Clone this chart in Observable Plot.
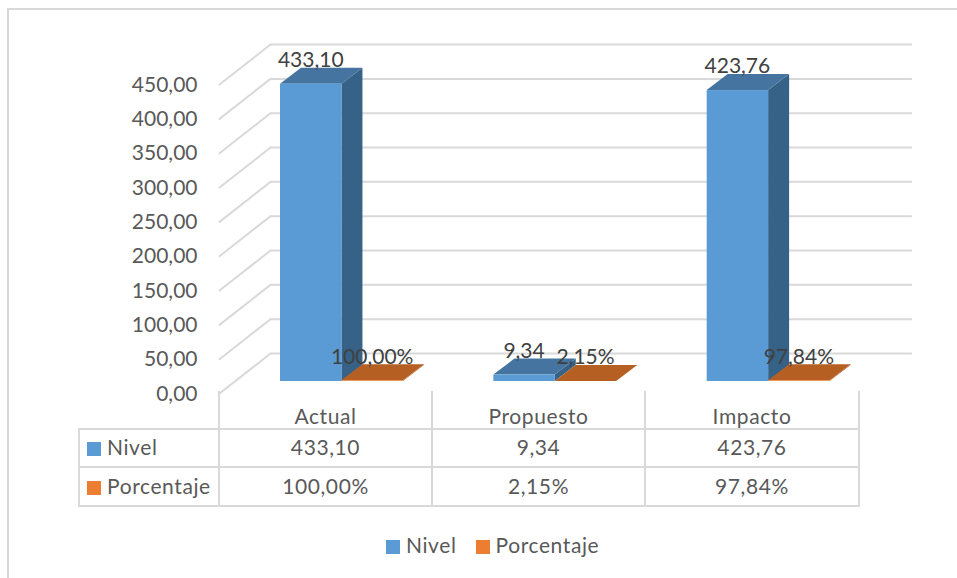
<!DOCTYPE html>
<html lang="es">
<head>
<meta charset="utf-8">
<script src="https://cdn.jsdelivr.net/npm/d3@7"></script>
<script src="https://cdn.jsdelivr.net/npm/@observablehq/plot@0.6"></script>
<style>
  html, body { margin: 0; padding: 0; background: #fff; }
  body { width: 957px; height: 578px; overflow: hidden; position: relative; font-family: Lato, "Open Sans", sans-serif; color: #595959; }
  #frame { position: absolute; left: 7px; top: 8px; width: 960px; height: 580px; border: 2px solid #d9d9d9; box-sizing: border-box; }
  #chart { position: absolute; left: 0; top: 0; }
  #chart svg { display: block; }
  table { position: absolute; left: 78px; top: 391px; border-collapse: collapse; table-layout: fixed; font-size: 21px; letter-spacing: 0.6px; }
  td { border: 2px solid #d9d9d9; padding: 0 0 3px 0; text-align: center; box-sizing: border-box; }
  td.corner { border-color: transparent #d9d9d9 #d9d9d9 transparent; }
  td.head { border-top-color: transparent; padding: 9px 0 0 0; }
  td.key { text-align: left; white-space: nowrap; }
  .swatch { display: inline-block; width: 14px; height: 14px; vertical-align: -1px; }
  td.key .swatch { margin: 0 6px 0 7px; }
  #legend { position: absolute; left: 386px; top: 530px; display: flex; align-items: center; font-size: 21px; letter-spacing: 0.6px; line-height: 30px; }
  #legend .swatch { margin-right: 6px; vertical-align: -1px; }
  #legend span.item + span.item { margin-left: 19px; }
</style>
</head>
<body>
<div id="frame"></div>
<div id="chart"></div>
<div id="table"></div>
<div id="legend"></div>
<script>
// Values of the two series
const categories = ["Actual", "Propuesto", "Impacto"];
const nivel = [433.10, 9.34, 423.76];
const porcentaje = [100.00, 2.15, 97.84];
const axisTicks = [0, 50, 100, 150, 200, 250, 300, 350, 400, 450];
const seriesNames = ["Nivel", "Porcentaje"];
const seriesColors = ["#5b9bd5", "#ed7d31"];

const fmt = d3.formatLocale({decimal: ",", thousands: ".", grouping: [3], currency: ["", ""]}).format(".2f");

// Oblique projection of the floor: how far each plane sits behind the front
// edge, in axis units vertically and category slots horizontally.
const wallRise = 58.25, wallRun = 0.239;
const barFrontRise = 17.5, barBackRise = 40.8, barRun = 0.0984;
const barWidth = 0.288, firstBar = 0.286;
const gridEnd = 3.248;

// Percentages are plotted on the same axis as a fraction, so they stay flat.
const bars = categories.flatMap((category, i) => [
  {category, series: 0, value: nivel[i], label: fmt(nivel[i]), x0: i + firstBar},
  {category, series: 1, value: porcentaje[i] / 100, label: fmt(porcentaje[i]) + "%", x0: i + firstBar + barWidth}
]).map((d, id) => ({...d, id, x1: d.x0 + barWidth}));

const sideFaces = bars.flatMap(d => [
  {id: d.id, series: d.series, x: d.x1, y1: barFrontRise, y2: barFrontRise + d.value},
  {id: d.id, series: d.series, x: d.x1 + barRun, y1: barBackRise, y2: barBackRise + d.value}
]);
const topFaces = bars.flatMap(d => [
  {id: d.id, series: d.series, y: barFrontRise + d.value, x1: d.x0, x2: d.x1},
  {id: d.id, series: d.series, y: barBackRise + d.value, x1: d.x0 + barRun, x2: d.x1 + barRun}
]);
const sideColors = ["#376287", "#b05b20"];
const topColors = ["#44749f", "#b65f22"];

const gridBack = axisTicks.map(v => ({v, x1: wallRun, x2: gridEnd, y: v + wallRise}));
const gridFloor = axisTicks.flatMap(v => [
  {v, x: 0, y: v},
  {v, x: wallRun, y: v + wallRise}
]);

const plot = Plot.plot({
  width: 957,
  height: 410,
  marginLeft: 219,
  marginRight: 0,
  marginTop: 0,
  marginBottom: 0,
  style: {fontFamily: "Lato, 'Open Sans', sans-serif", background: "transparent", overflow: "visible"},
  x: {domain: [0, 3.4], range: [219, 219 + 213.33 * 3.4], axis: null},
  y: {domain: [0, 520], range: [393, 36], axis: null},
  marks: [
    // back wall and floor-side guide lines
    Plot.ruleY(gridBack, {y: "y", x1: "x1", x2: "x2", stroke: "#d9d9d9", strokeWidth: 2}),
    Plot.line(gridFloor, {x: "x", y: "y", z: "v", stroke: "#d9d9d9", strokeWidth: 2}),
    Plot.axisY(axisTicks, {
      anchor: "left",
      label: null,
      tickSize: 0,
      tickPadding: 22,
      tickFormat: fmt,
      fontSize: 21,
      fill: "#595959",
      letterSpacing: 0.6,
      dy: 0.5
    }),
    // three visible faces of each bar
    Plot.areaY(sideFaces, {x: "x", y1: "y1", y2: "y2", z: "id", fill: d => sideColors[d.series], curve: "linear"}),
    Plot.areaX(topFaces, {y: "y", x1: "x1", x2: "x2", z: "id", fill: d => topColors[d.series], curve: "linear"}),
    Plot.rect(bars, {
      x1: "x0",
      x2: "x1",
      y1: barFrontRise,
      y2: d => barFrontRise + d.value,
      fill: d => seriesColors[d.series]
    }),
    // value labels
    Plot.text(bars, {
      x: d => (d.x0 + d.x1) / 2,
      y: d => barFrontRise + d.value,
      text: "label",
      dy: -24,
      dx: -0.5,
      fontSize: 21,
      fill: "#404040",
      letterSpacing: 0.6
    })
  ]
});
document.getElementById("chart").append(plot);

// Data table beneath the axis
const swatch = i => `<span class="swatch" style="background:${seriesColors[i]}"></span>`;
const rowHeights = [37, 38, 39];
const colWidths = [140, 213, 213, 214];
const rows = [
  [`<td class="corner"></td>`, ...categories.map(c => `<td class="head">${c}</td>`)],
  [`<td class="key">${swatch(0)}${seriesNames[0]}</td>`, ...nivel.map(v => `<td>${fmt(v)}</td>`)],
  [`<td class="key">${swatch(1)}${seriesNames[1]}</td>`, ...porcentaje.map(v => `<td>${fmt(v)}%</td>`)]
];
document.getElementById("table").innerHTML =
  `<table><colgroup>${colWidths.map(w => `<col style="width:${w}px">`).join("")}</colgroup>` +
  rows.map((r, i) => `<tr style="height:${rowHeights[i]}px">${r.join("")}</tr>`).join("") +
  `</table>`;

document.getElementById("legend").innerHTML = seriesNames
  .map((n, i) => `<span class="item">${swatch(i)}${n}</span>`).join("");
</script>
</body>
</html>
